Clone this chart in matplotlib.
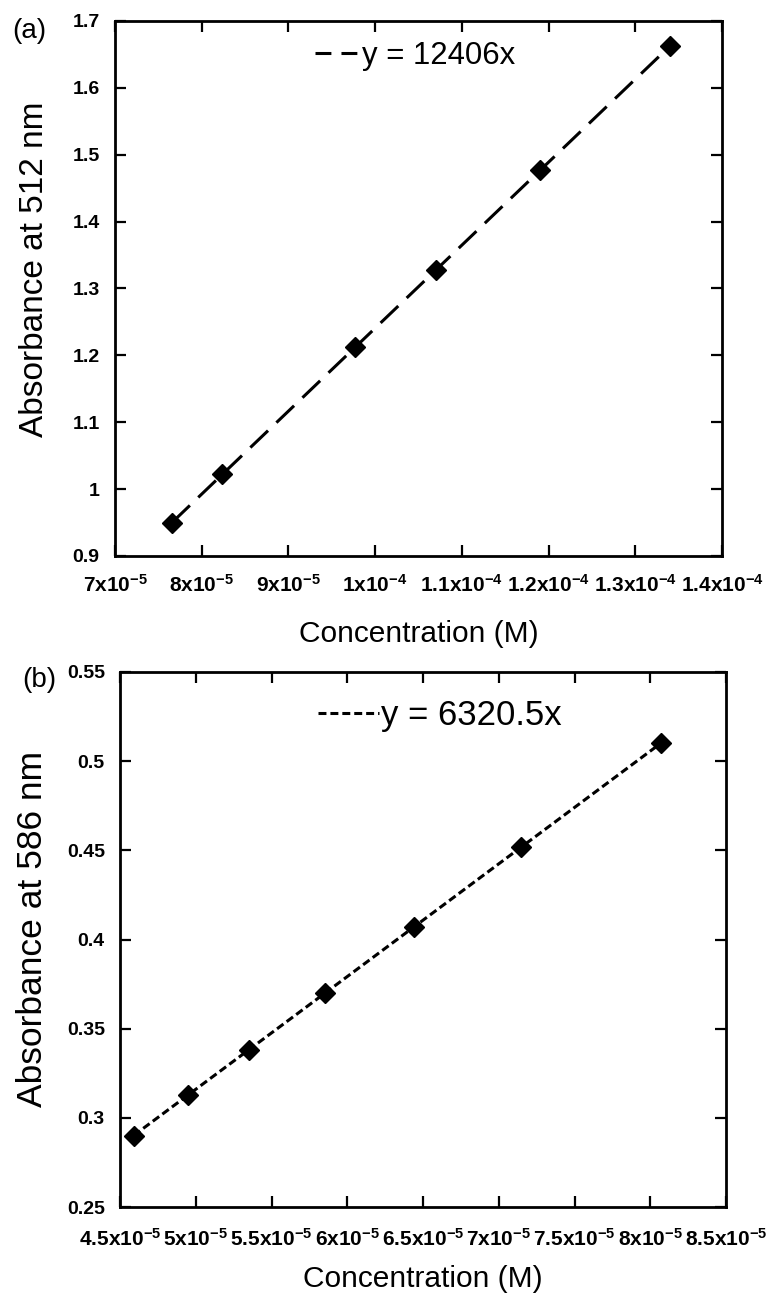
import numpy as np
import matplotlib
matplotlib.use("Agg")
import matplotlib.pyplot as plt
from matplotlib.lines import Line2D

# ---- data ----
conc_a = [7.66e-5, 8.24e-5, 9.77e-5, 1.0705e-4, 1.1906e-4, 1.3405e-4]
abs_a = [0.950, 1.022, 1.212, 1.328, 1.477, 1.663]
slope_a = 12406
legend_a = "y = 12406x"

conc_b = [4.59e-5, 4.95e-5, 5.35e-5, 5.85e-5, 6.44e-5, 7.15e-5, 8.07e-5]
abs_b = [0.290, 0.313, 0.338, 0.370, 0.407, 0.452, 0.510]
slope_b = 6320.5
legend_b = "y = 6320.5x"

xticks_a = [7e-5, 8e-5, 9e-5, 1e-4, 1.1e-4, 1.2e-4, 1.3e-4, 1.4e-4]
yticks_a = [0.9, 1.0, 1.1, 1.2, 1.3, 1.4, 1.5, 1.6, 1.7]
xticks_b = [4.5e-5, 5e-5, 5.5e-5, 6e-5, 6.5e-5, 7e-5, 7.5e-5, 8e-5, 8.5e-5]
yticks_b = [0.25, 0.3, 0.35, 0.4, 0.45, 0.5, 0.55]

ylabel_a = "Absorbance at 512 nm"
ylabel_b = "Absorbance at 586 nm"
xlabel = "Concentration (M)"

plt.rcParams['font.family'] = ['Liberation Sans', 'DejaVu Sans']
plt.rcParams['mathtext.fontset'] = 'custom'
plt.rcParams['mathtext.rm'] = 'Liberation Sans:bold'
plt.rcParams['mathtext.bf'] = 'Liberation Sans:bold'
plt.rcParams['mathtext.it'] = 'Liberation Sans:bold'
plt.rcParams['mathtext.default'] = 'bf'


def sci_label(v):
    e = int(np.floor(np.log10(v) + 1e-9))
    m = v / 10 ** e
    return "%gx10$^{%d}$" % (round(m, 3), e)


fig = plt.figure(figsize=(7.66, 12.99), dpi=100)
ax_a = fig.add_axes([0.1501, 0.5720, 0.7924, 0.4119])
ax_b = fig.add_axes([0.1567, 0.0708, 0.7911, 0.4119])


def style(ax, xt, yt, ylab, xfs, yfs, xpad, ypad, xl_fs, yl_fs, xl_pos, yl_pos):
    ax.set_xlim(xt[0], xt[-1])
    ax.set_ylim(yt[0], yt[-1])
    ax.set_xticks(xt)
    ax.set_xticklabels([sci_label(v) for v in xt])
    ax.set_yticks(yt)
    ax.set_yticklabels(["%g" % v for v in yt])
    ax.tick_params(direction='in', top=True, right=True, length=8, width=1.6)
    ax.tick_params(axis='x', labelsize=xfs, pad=xpad)
    ax.tick_params(axis='y', labelsize=yfs, pad=ypad)
    for lab in ax.get_xticklabels() + ax.get_yticklabels():
        lab.set_fontweight('bold')
    for s in ax.spines.values():
        s.set_linewidth(2.0)
    ax.set_xlabel(xlabel, fontsize=xl_fs)
    ax.set_ylabel(ylab, fontsize=yl_fs)
    ax.xaxis.label.set_va('center')
    ax.yaxis.label.set_va('center')
    ax.xaxis.set_label_coords(*xl_pos)
    ax.yaxis.set_label_coords(*yl_pos)


LW = 2.2

# panel (a)
xa = np.array([min(conc_a), max(conc_a)])
ax_a.plot(xa, slope_a * xa, color='black', lw=LW, dashes=(8.0, 3.8))
ax_a.plot(conc_a, abs_a, 'D', color='black', ms=10)
style(ax_a, xticks_a, yticks_a, ylabel_a, 15, 14, 13, 11, 21.5, 24,
      (0.5, -0.146), (-0.132, 0.535))
h_a = Line2D([], [], color='black', lw=LW, dashes=(5.2, 3.3))
ax_a.legend([h_a], [legend_a], loc='center left', bbox_to_anchor=(0.329, 0.935),
            frameon=False, fontsize=22.4, handlelength=1.35, handletextpad=0.16,
            borderpad=0, borderaxespad=0)

# panel (b)
xb = np.array([min(conc_b), max(conc_b)])
ax_b.plot(xb, slope_b * xb, color='black', lw=LW, dashes=(2.6, 1.3))
ax_b.plot(conc_b, abs_b, 'D', color='black', ms=10)
style(ax_b, xticks_b, yticks_b, ylabel_b, 15, 14, 15, 11, 21.5, 25.5,
      (0.5, -0.1346), (-0.145, 0.52))
h_b = Line2D([], [], color='black', lw=LW, dashes=(2.6, 1.3))
ax_b.legend([h_b], [legend_b], loc='center left', bbox_to_anchor=(0.327, 0.918),
            frameon=False, fontsize=25, handlelength=1.75, handletextpad=0.06,
            borderpad=0, borderaxespad=0)

fig.text(12 / 766, 1 - 31 / 1299, "(a)", fontsize=20, va='center', ha='left')
fig.text(22 / 766, 1 - 680 / 1299, "(b)", fontsize=20, va='center', ha='left')

fig.savefig("out.png", dpi=100)
